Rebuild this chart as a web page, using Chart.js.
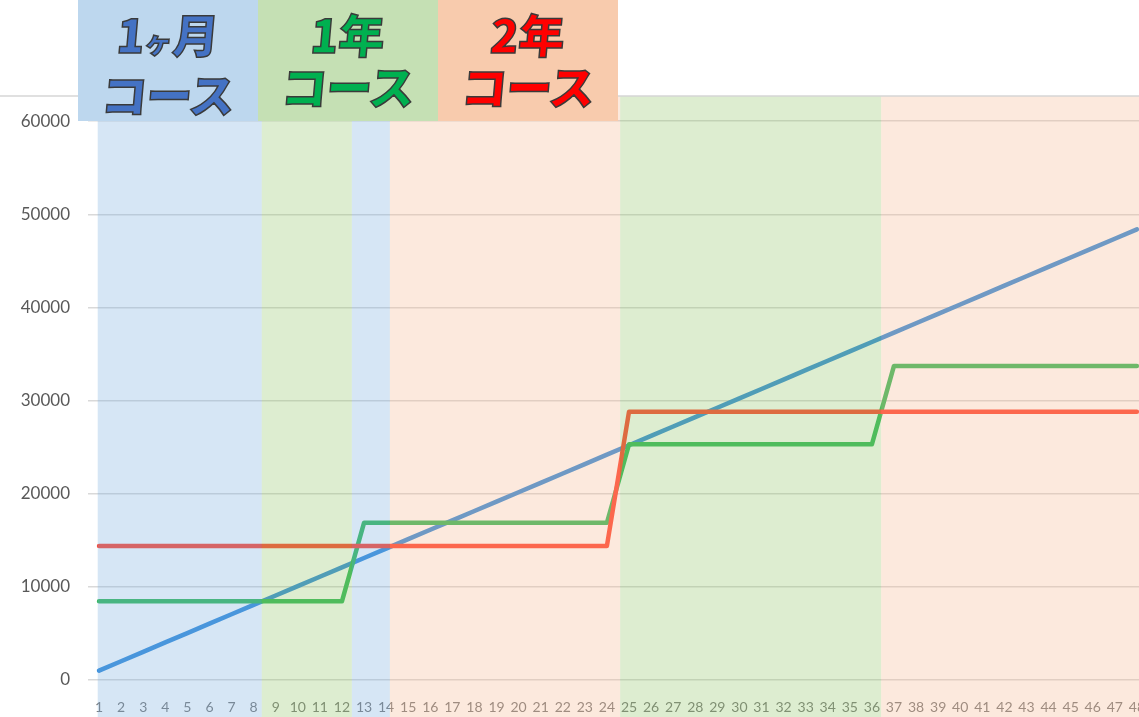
<!DOCTYPE html>
<html>
<head>
<meta charset="utf-8">
<script src="https://cdn.jsdelivr.net/npm/chart.js@4"></script>
<style>
  html, body { margin: 0; padding: 0; background: #fff; overflow: hidden; }
  #wrap { position: relative; width: 1139px; height: 717px; overflow: hidden; }
  #chart { position: absolute; left: 0; top: 0; width: 1156px; height: 717px; max-width: none; }
  .course {
    position: absolute; top: 0; width: 180px; height: 121px;
    font-family: "Noto Sans CJK JP", sans-serif; font-weight: 900;
    text-align: center; -webkit-text-stroke: 1.5px #3a3a3a;
  }
  .course div { font-size: 46px; line-height: 46px; transform: skewX(-5deg); }
  .course .l1 { margin-top: 10px; }
  .course .l2 { margin-top: 6px; letter-spacing: -1px; }
  .course small { font-size: 28px; }
</style>
</head>
<body>
<div id="wrap">
  <canvas id="chart" width="1156" height="717"></canvas>
  <div class="course" style="left:78px;background:#bdd7ee;color:#4472c4"><div class="l1">1<small>ヶ</small>月</div><div class="l2">コース</div></div>
  <div class="course" style="left:258px;background:#c5e0b4;color:#00b050"><div class="l1">1年</div><div class="l2">コース</div></div>
  <div class="course" style="left:438px;background:#f8cbad;color:#ff0000"><div class="l1">2年</div><div class="l2">コース</div></div>
</div>
<script>
var months = ['1','2','3','4','5','6','7','8','9','10','11','12','13','14','15','16','17','18','19','20','21','22','23','24',
              '25','26','27','28','29','30','31','32','33','34','35','36','37','38','39','40','41','42','43','44','45','46','47','48'];

// 1ヶ月コース (monthly)
var oneMonth = [1008, 2016, 3024, 4032, 5040, 6048, 7056, 8064, 9072, 10080, 11088, 12096,
                13104, 14112, 15120, 16128, 17136, 18144, 19152, 20160, 21168, 22176, 23184, 24192,
                25200, 26208, 27216, 28224, 29232, 30240, 31248, 32256, 33264, 34272, 35280, 36288,
                37296, 38304, 39312, 40320, 41328, 42336, 43344, 44352, 45360, 46368, 47376, 48384];
// 1年コース
var oneYear = [8450, 8450, 8450, 8450, 8450, 8450, 8450, 8450, 8450, 8450, 8450, 8450,
               16880, 16880, 16880, 16880, 16880, 16880, 16880, 16880, 16880, 16880, 16880, 16880,
               25300, 25300, 25300, 25300, 25300, 25300, 25300, 25300, 25300, 25300, 25300, 25300,
               33720, 33720, 33720, 33720, 33720, 33720, 33720, 33720, 33720, 33720, 33720, 33720];
// 2年コース
var twoYear = [14400, 14400, 14400, 14400, 14400, 14400, 14400, 14400, 14400, 14400, 14400, 14400,
               14400, 14400, 14400, 14400, 14400, 14400, 14400, 14400, 14400, 14400, 14400, 14400,
               28800, 28800, 28800, 28800, 28800, 28800, 28800, 28800, 28800, 28800, 28800, 28800,
               28800, 28800, 28800, 28800, 28800, 28800, 28800, 28800, 28800, 28800, 28800, 28800];

var yTicks = [0, 10000, 20000, 30000, 40000, 50000, 60000];

// shaded bands, in month units (from / to) and which course they belong to
var bandFrom = [0.94, 8.37, 12.45, 14.17, 24.6, 36.42];
var bandTo   = [8.37, 12.45, 14.17, 24.6, 36.42, 49];
var bandKind = ['month', 'year', 'month', 'twoyear', 'year', 'twoyear'];

var bandColors = {
    month: 'rgba(118,172,222,0.3)',
    year: 'rgba(142,194,100,0.3)',
    twoyear: 'rgba(245,182,142,0.3)'
};

// bands are drawn over everything, so the lines and labels get tinted
var bandPlugin = {
    id: 'bands',
    afterDraw: function(chart){
        var ctx = chart.ctx;
        var x = chart.scales.x;
        var area = chart.chartArea;
        ctx.save();
        for (var i = 0; i < bandFrom.length; i++) {
            var x0 = x.getPixelForValue(bandFrom[i] - 1);
            var x1 = x.getPixelForValue(bandTo[i] - 1);
            ctx.fillStyle = bandColors[bandKind[i]];
            ctx.fillRect(x0, area.top, x1 - x0, chart.height - area.top);
        }
        // top border line
        ctx.strokeStyle = '#d6d6d6';
        ctx.lineWidth = 1.5;
        ctx.beginPath();
        ctx.moveTo(0, area.top);
        ctx.lineTo(chart.width, area.top);
        ctx.stroke();
        ctx.restore();
    }
};

Chart.defaults.font.family = 'Lato, "Open Sans", sans-serif';

function line(data, color){
    return {
        data: data,
        borderColor: color,
        borderWidth: 4.5,
        pointRadius: 0,
        tension: 0,
        borderCapStyle: 'round',
        borderJoinStyle: 'round',
        fill: false
    };
}

var chart = new Chart(document.getElementById('chart'), {
    type: 'line',
    data: {
        labels: months,
        datasets: [
            line(twoYear, '#ff4632'),
            line(oneYear, '#34b95a'),
            line(oneMonth, '#358ddc')
        ]
    },
    options: {
        responsive: false,
        animation: false,
        layout: { padding: { top: 96, left: 0, right: 0, bottom: 0 } },
        plugins: { legend: { display: false }, tooltip: { enabled: false } },
        scales: {
            x: {
                offset: true,
                grid: { display: false },
                border: { display: false },
                ticks: { autoSkip: false, maxRotation: 0, color: '#7a7a7a', font: { size: 14 }, padding: 11 },
                afterFit: function(axis){ axis.height = 37; }
            },
            y: {
                min: 0,
                max: 62700,
                afterBuildTicks: function(axis){
                    axis.ticks = yTicks.map(function(v){ return { value: v }; });
                },
                grid: { color: '#d9d9d9', lineWidth: 1.5, drawTicks: false },
                border: { display: false },
                ticks: {
                    color: '#595959', font: { size: 17 }, padding: 18,
                    callback: function(v){ return String(v); }
                },
                afterFit: function(axis){ axis.width = 88; }
            }
        }
    },
    plugins: [bandPlugin]
});
</script>
</body>
</html>
